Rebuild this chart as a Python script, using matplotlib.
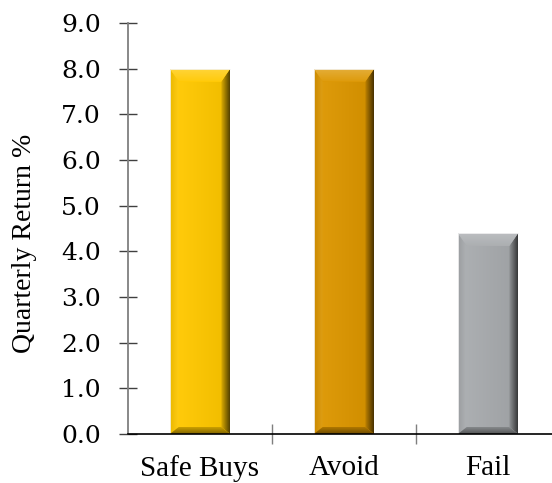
import numpy as np
import matplotlib
matplotlib.use("Agg")
import matplotlib.pyplot as plt
from matplotlib.patches import Polygon
from matplotlib.colors import to_rgb

# data
categories = ["Safe Buys", "Avoid", "Fail"]
returns = [8.0, 8.0, 4.4]
bar_colors = ["#FFC800", "#DC9600", "#A8ABAE"]
yticks = np.arange(0, 9.5, 1.0)
ylabel = "Quarterly Return %"

W, H = 552, 483
fig = plt.figure(figsize=(W / 100, H / 100), dpi=100)
ax = fig.add_axes([128 / W, 1 - 434 / H, 1 - 128 / W, (434 - 23) / H])
xmax = -0.5 + (W - 128) / 144.0
ax.set_xlim(-0.5, xmax)
ax.set_ylim(0, 9)


def shade(c, f):
    c = np.array(to_rgb(c))
    if f >= 1:
        return c + (1 - c) * (f - 1)
    return c * f


def grad_poly(verts, c_from, c_to, horizontal=True, z=3):
    # fill a polygon with a linear gradient (clipped image)
    poly = Polygon(verts, closed=True, facecolor="none", edgecolor="none")
    ax.add_patch(poly)
    xs = [v[0] for v in verts]
    ys = [v[1] for v in verts]
    t = np.linspace(0, 1, 64)
    cols = np.array([c_from * (1 - s) + c_to * s for s in t])
    img = cols[None, :, :] if horizontal else cols[::-1, None, :]
    im = ax.imshow(img, extent=[min(xs), max(xs), min(ys), max(ys)],
                   aspect="auto", interpolation="bilinear", zorder=z)
    im.set_clip_path(poly)


bars = ax.bar(range(len(categories)), returns, width=0.42, color=bar_colors,
              zorder=2, linewidth=0)

bb = ax.get_window_extent()
px_x = (xmax + 0.5) / bb.width
px_y = 9.0 / bb.height

for rect, col in zip(bars, bar_colors):
    x0, y0 = rect.get_x(), 0.0
    x1, y1 = x0 + rect.get_width(), rect.get_height()
    xi0, xi1 = x0 + 9 * px_x, x1 - 9 * px_x
    yi0, yi1 = y0 + 7 * px_y, y1 - 13 * px_y
    # face
    grad_poly([(xi0, yi0), (xi1, yi0), (xi1, yi1), (xi0, yi1)],
              shade(col, 1.04), shade(col, 0.95))
    # left bevel
    grad_poly([(x0, y0), (xi0, yi0), (xi0, yi1), (x0, y1)],
              shade(col, 0.92), shade(col, 1.08))
    # right bevel
    grad_poly([(xi1, yi0), (x1, y0), (x1, y1), (xi1, yi1)],
              shade(col, 0.88), shade(col, 0.32))
    # top bevel
    grad_poly([(x0, y1), (x1, y1), (xi1, yi1), (xi0, yi1)],
              shade(col, 1.04), shade(col, 1.22), horizontal=False, z=4)
    # bottom bevel
    grad_poly([(x0, y0), (x1, y0), (xi1, yi0), (xi0, yi0)],
              shade(col, 0.5), shade(col, 0.8), horizontal=False, z=4)
    ax.plot([x0, x0, x1], [y0, y1, y1], color="#f4f4f4", lw=0.6, zorder=5)

ax.set_xlim(-0.5, xmax)
ax.set_ylim(0, 9)

for s in ("top", "right"):
    ax.spines[s].set_visible(False)
ax.spines["left"].set_color("#7f7f7f")
ax.spines["left"].set_linewidth(1.3)
ax.spines["bottom"].set_color("black")
ax.spines["bottom"].set_linewidth(1.2)
ax.spines["bottom"].set_zorder(6)

ax.set_yticks(yticks)
ax.set_yticklabels([f"{v:.1f}" for v in yticks], family="DejaVu Serif",
                   fontsize=18)
ax.tick_params(axis="y", direction="inout", length=13, width=1.0,
               color="#404040", pad=13)

ax.set_xticks(range(len(categories)))
ax.set_xticklabels(categories, family="Liberation Serif", fontsize=21)
ax.tick_params(axis="x", which="major", length=0, pad=15)
ax.set_xticks([0.5, 1.5], minor=True)
ax.tick_params(axis="x", which="minor", direction="inout", length=14,
               width=1.0, color="#7f7f7f")

ax.set_ylabel(ylabel, family="Liberation Serif", fontsize=20)
ax.yaxis.set_label_coords(-0.215, 0.465)

fig.savefig("out.png", dpi=100)
